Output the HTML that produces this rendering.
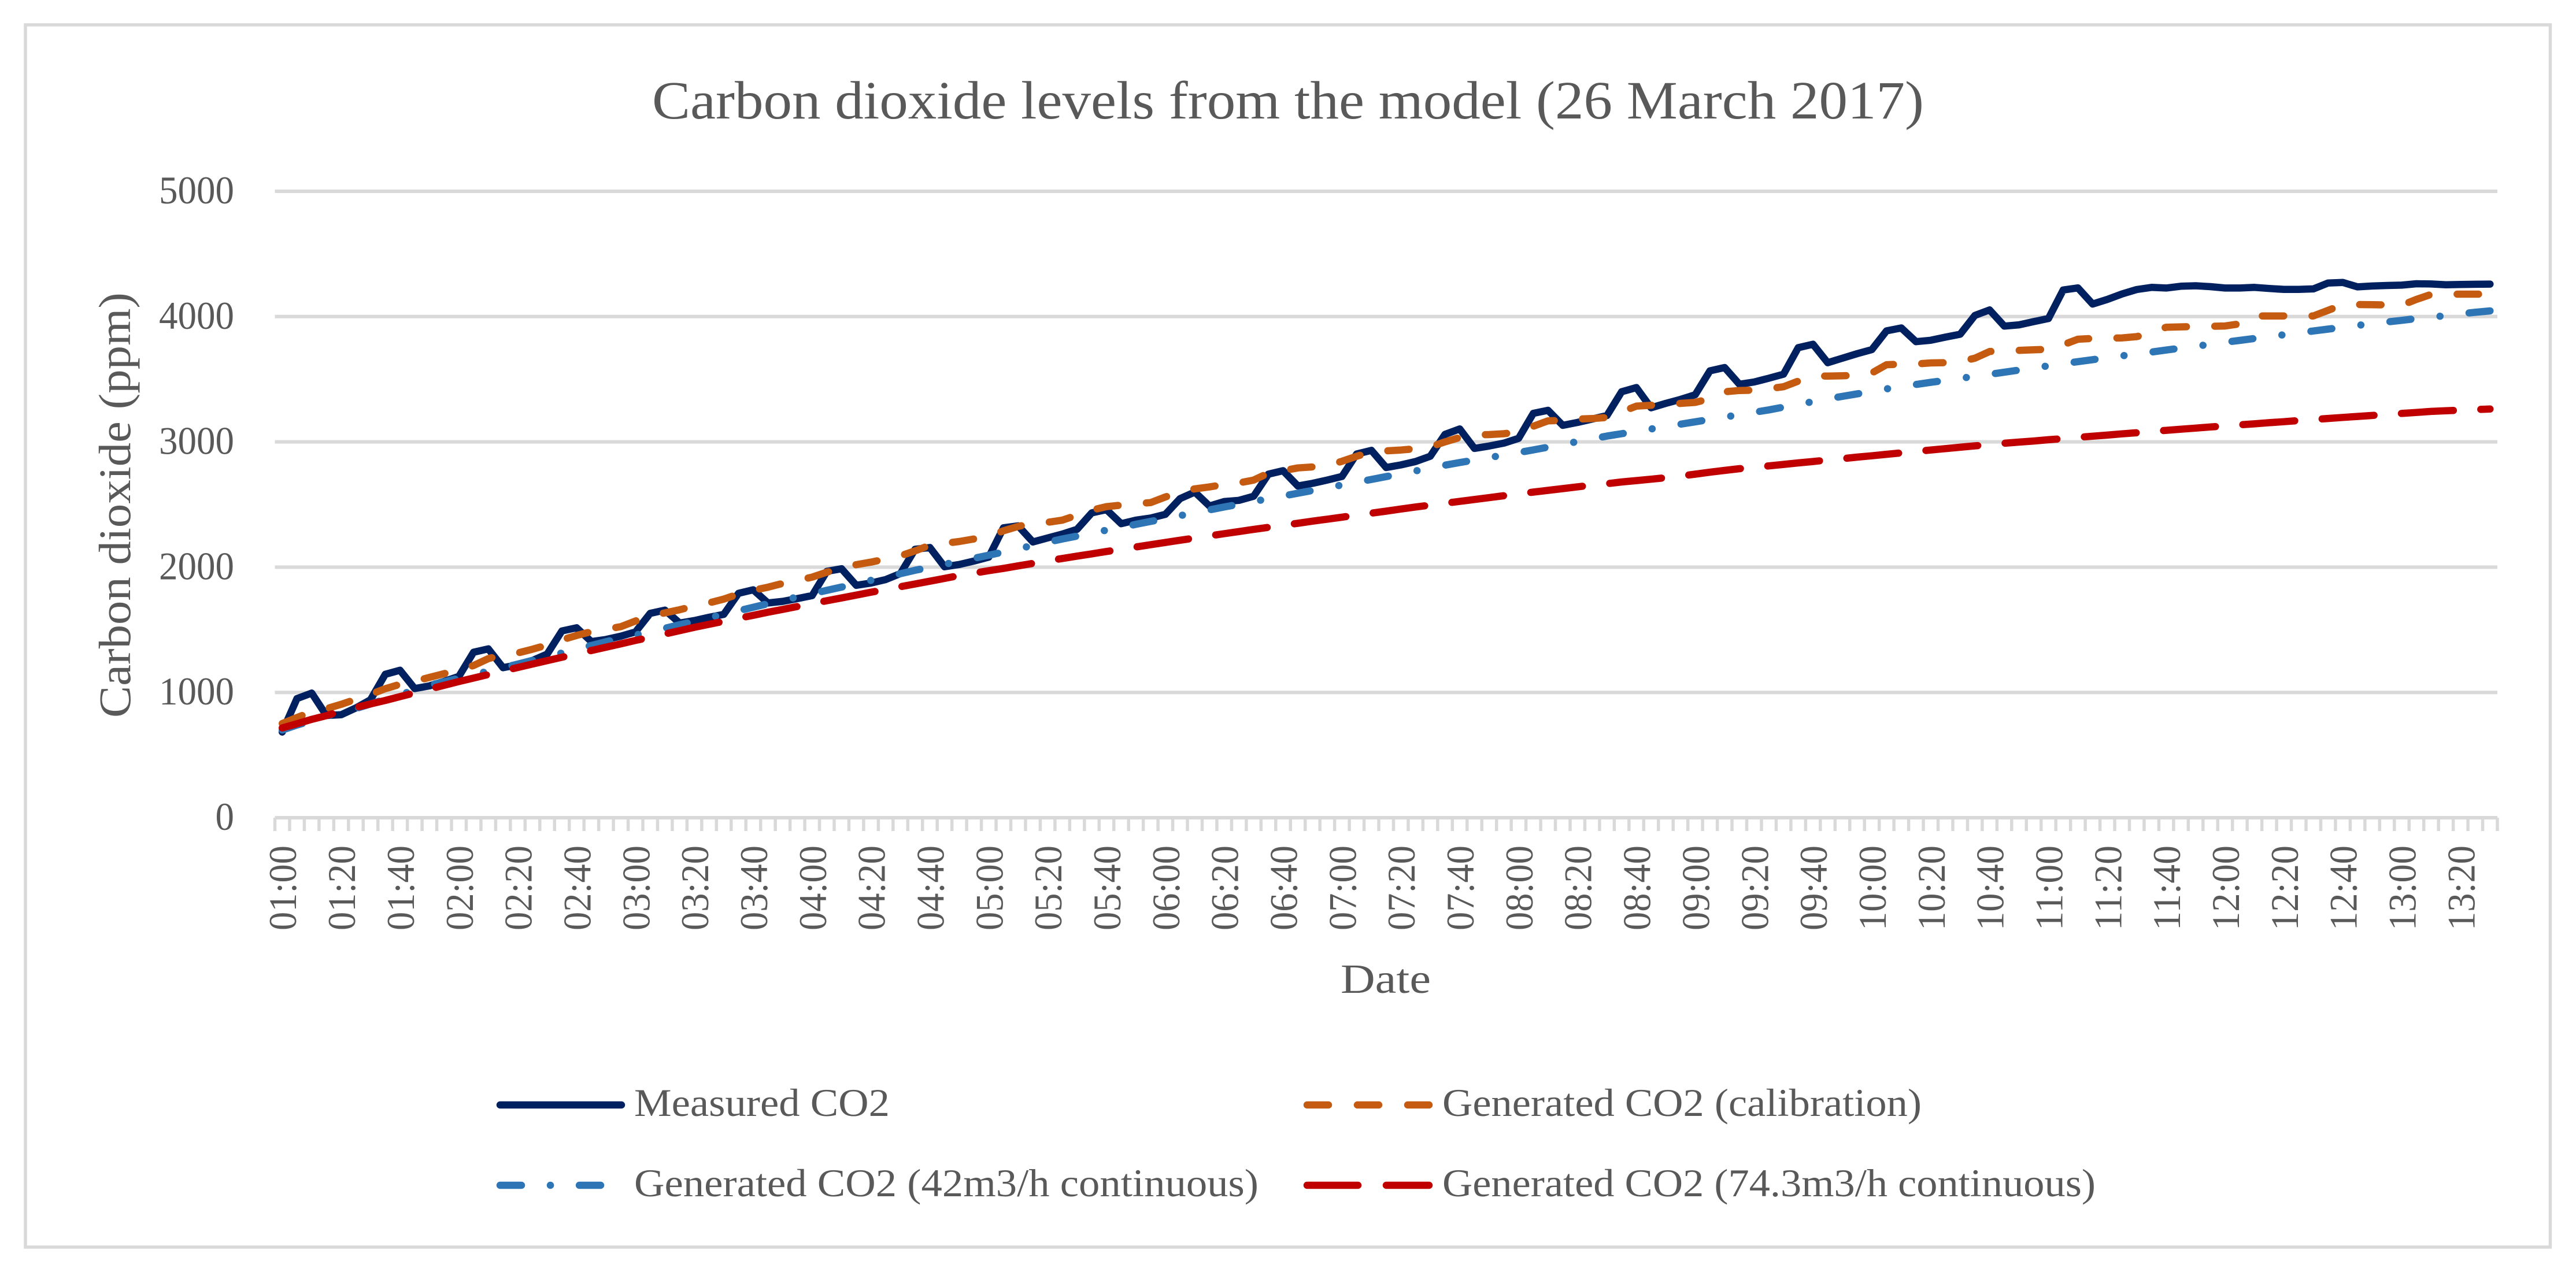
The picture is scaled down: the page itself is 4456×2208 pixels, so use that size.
<!DOCTYPE html>
<html lang="en">
<head>
<meta charset="utf-8">
<title>Carbon dioxide levels from the model (26 March 2017)</title>
<style>
html,body{margin:0;padding:0;background:#fff;}
svg{display:block;}
text{font-family:"Liberation Serif",serif;fill:#595959;}
</style>
</head>
<body>
<svg id="chart" xmlns="http://www.w3.org/2000/svg" width="4456" height="2208" viewBox="0 0 4456 2208">
<rect x="0" y="0" width="4456" height="2208" fill="#fff"/>
<rect x="44" y="43" width="4367.5" height="2115" fill="#fff" stroke="#d9d9d9" stroke-width="5.5"/>
<text x="1128" y="205" font-size="93" textLength="2200" lengthAdjust="spacingAndGlyphs">Carbon dioxide levels from the model (26 March 2017)</text>
<text transform="translate(225,1242) rotate(-90)" font-size="78" textLength="736" lengthAdjust="spacingAndGlyphs">Carbon dioxide (ppm)</text>
<text x="2319" y="1718" font-size="72" textLength="156" lengthAdjust="spacingAndGlyphs">Date</text>
<g id="grid"></g>
<g id="xaxis"></g>
<g id="yaxis"></g>
<g id="series"></g>
<g>
  <g>
    <line x1="865" y1="1912" x2="1075" y2="1912" stroke="#002060" stroke-width="12.5" stroke-linecap="round"/>
    <text x="1097" y="1931" font-size="68" textLength="442" lengthAdjust="spacingAndGlyphs">Measured CO2</text>
  </g>
  <g>
    <line x1="2261" y1="1912" x2="2472" y2="1912" stroke="#C55A11" stroke-width="12.5" stroke-linecap="round" stroke-dasharray="37 50"/>
    <text x="2495" y="1931" font-size="68" textLength="829" lengthAdjust="spacingAndGlyphs">Generated CO2 (calibration)</text>
  </g>
  <g>
    <line x1="865" y1="2051" x2="1039" y2="2051" stroke="#2E75B6" stroke-width="12.5" stroke-linecap="round" stroke-dasharray="37 50 0.1 50"/>
    <text x="1097" y="2070" font-size="68" textLength="1080" lengthAdjust="spacingAndGlyphs">Generated CO2 (42m3/h continuous)</text>
  </g>
  <g>
    <line x1="2261" y1="2051" x2="2472" y2="2051" stroke="#C00000" stroke-width="12.5" stroke-linecap="round" stroke-dasharray="88 49"/>
    <text x="2495" y="2070" font-size="68" textLength="1130" lengthAdjust="spacingAndGlyphs">Generated CO2 (74.3m3/h continuous)</text>
  </g>
</g>
</svg>
<script>
var xTickLabels = ["01:00","01:20","01:40","02:00","02:20","02:40","03:00","03:20","03:40","04:00","04:20","04:40","05:00","05:20","05:40","06:00","06:20","06:40","07:00","07:20","07:40","08:00","08:20","08:40","09:00","09:20","09:40","10:00","10:20","10:40","11:00","11:20","11:40","12:00","12:20","12:40","13:00","13:20"];
var labelEvery = 4;
var yTicks = [0,1000,2000,3000,4000,5000];
var measured = [684,951,995,816,822,876,942,1145,1177,1031,1052,1088,1128,1321,1348,1198,1220,1255,1306,1491,1516,1406,1423,1449,1483,1631,1657,1554,1574,1600,1623,1791,1819,1714,1727,1749,1773,1967,1987,1855,1873,1901,1949,2143,2157,2003,2021,2049,2080,2314,2330,2201,2233,2264,2302,2433,2459,2347,2375,2392,2421,2547,2599,2488,2524,2533,2566,2742,2770,2648,2669,2695,2724,2903,2932,2795,2816,2843,2885,3060,3103,2948,2967,2990,3028,3228,3252,3132,3155,3182,3210,3400,3433,3272,3307,3339,3376,3567,3593,3460,3478,3508,3540,3752,3779,3632,3668,3704,3736,3886,3909,3800,3811,3836,3859,4009,4053,3924,3934,3960,3985,4212,4229,4100,4137,4181,4216,4233,4228,4242,4246,4239,4228,4228,4233,4224,4217,4217,4221,4268,4272,4237,4244,4248,4251,4262,4260,4254,4256,4258,4259];
var calibration = [752,800,845,870,905,945,985,1030,1065,1090,1120,1150,1180,1215,1270,1300,1315,1345,1378,1420,1455,1485,1505,1525,1570,1610,1635,1660,1690,1715,1745,1785,1815,1840,1870,1895,1920,1960,1990,2020,2040,2065,2090,2130,2175,2190,2205,2225,2243,2290,2325,2350,2358,2375,2415,2455,2483,2495,2507,2515,2560,2600,2625,2640,2660,2672,2695,2750,2770,2792,2800,2810,2845,2885,2920,2928,2935,2945,2960,3000,3035,3055,3058,3065,3080,3125,3168,3172,3182,3186,3195,3240,3285,3292,3300,3307,3315,3345,3400,3410,3413,3425,3440,3485,3527,3525,3527,3532,3550,3616,3620,3622,3630,3632,3640,3668,3721,3727,3730,3735,3739,3775,3819,3825,3827,3830,3840,3871,3915,3918,3920,3922,3925,3942,4005,4005,4005,4005,4005,4050,4096,4096,4095,4093,4091,4137,4177,4179,4179,4179,4179];
var continuous42 = [700,740,775,810,845,872,908,945,982,1020,1058,1085,1113,1141,1170,1198,1226,1256,1285,1315,1345,1375,1405,1431,1458,1485,1512,1540,1568,1596,1624,1652,1680,1708,1735,1762,1788,1815,1841,1868,1895,1922,1948,1975,1999,2023,2047,2071,2095,2121,2147,2173,2199,2225,2248,2271,2295,2318,2342,2365,2388,2411,2434,2457,2480,2502,2524,2546,2568,2590,2612,2634,2656,2678,2700,2723,2746,2768,2791,2814,2835,2855,2875,2895,2915,2936,2958,2980,3002,3024,3046,3065,3084,3103,3122,3141,3160,3179,3198,3217,3236,3255,3277,3299,3321,3343,3363,3383,3403,3423,3440,3458,3475,3491,3507,3523,3539,3556,3573,3590,3607,3624,3640,3656,3671,3687,3702,3717,3733,3748,3763,3779,3795,3810,3825,3840,3855,3870,3885,3900,3915,3930,3943,3957,3970,3984,3995,4008,4022,4034,4045];
var continuous743 = [717,750,785,815,850,880,908,936,967,997,1027,1057,1087,1115,1143,1171,1199,1227,1254,1281,1308,1335,1361,1388,1415,1441,1467,1493,1520,1544,1568,1592,1616,1640,1663,1686,1709,1732,1754,1777,1800,1822,1844,1866,1888,1910,1933,1952,1972,1990,2010,2030,2050,2069,2088,2106,2125,2143,2161,2179,2197,2215,2232,2250,2267,2284,2301,2318,2334,2350,2367,2383,2399,2415,2431,2447,2464,2480,2495,2510,2525,2540,2555,2570,2585,2599,2613,2627,2641,2654,2666,2680,2691,2702,2714,2727,2742,2758,2772,2786,2796,2808,2820,2832,2843,2855,2866,2878,2889,2901,2912,2924,2935,2946,2957,2968,2978,2989,2998,3007,3017,3026,3036,3045,3054,3064,3073,3083,3092,3101,3110,3119,3127,3136,3144,3153,3161,3170,3178,3187,3195,3203,3211,3219,3227,3235,3243,3248,3253,3258,3262];

var NS = 'http://www.w3.org/2000/svg';
var plotLeft = 475.5, plotRight = 4320, plotTop = 331, plotBottom = 1415, yMax = 5000;
var step = (plotRight - plotLeft) / measured.length;
function xEdge(k) { return plotLeft + step * k; }
function xCenter(i) { return plotLeft + step * (i + 0.5); }
function yScale(v) { return plotBottom - (v / yMax) * (plotBottom - plotTop); }
function mk(tag) { return document.createElementNS(NS, tag); }

var grid = document.getElementById('grid');
var yaxis = document.getElementById('yaxis');
yTicks.forEach(function (t) {
  var l = mk('line');
  
  
  l.setAttribute('x1', plotLeft);
  l.setAttribute('x2', plotRight);
  l.setAttribute('y1', yScale(t));
  l.setAttribute('y2', yScale(t));
  l.setAttribute('stroke', '#d9d9d9');
  l.setAttribute('stroke-width', '6');
  grid.appendChild(l);
  var tx = mk('text');
  
  
  tx.setAttribute('x', 405);
  tx.setAttribute('y', yScale(t) + 21);
  tx.setAttribute('text-anchor', 'end');
  tx.setAttribute('font-size', '68');
  tx.setAttribute('textLength', String(String(t).length * 32.5));
  tx.setAttribute('lengthAdjust', 'spacingAndGlyphs');
  tx.textContent = String(t);
  yaxis.appendChild(tx);
});

var xaxis = document.getElementById('xaxis');
for (var k = 0; k <= measured.length; k++) {
  var tk = mk('line');
  
  
  tk.setAttribute('x1', xEdge(k));
  tk.setAttribute('x2', xEdge(k));
  tk.setAttribute('y1', plotBottom);
  tk.setAttribute('y2', plotBottom + 23);
  tk.setAttribute('stroke', '#d9d9d9');
  tk.setAttribute('stroke-width', '5.5');
  xaxis.appendChild(tk);
}
xTickLabels.forEach(function (lab, n) {
  var cx = xCenter(n * labelEvery);
  var tx = mk('text');
  
  
  tx.setAttribute('transform', 'translate(' + (cx + 24) + ',1463) rotate(-90)');
  tx.setAttribute('text-anchor', 'end');
  tx.setAttribute('font-size', '68');
  tx.setAttribute('textLength', '147');
  tx.setAttribute('lengthAdjust', 'spacingAndGlyphs');
  tx.textContent = lab;
  xaxis.appendChild(tx);
});

function linePath(values) {
  var d = '';
  for (var i = 0; i < values.length; i++) {
    d += (i ? 'L' : 'M') + xCenter(i).toFixed(1) + ' ' + yScale(values[i]).toFixed(1);
  }
  return d;
}
var seriesGroup = document.getElementById('series');
function addSeries(name, values, color, dash) {
  var p = mk('path');
  
  
  p.setAttribute('d', linePath(values));
  p.setAttribute('fill', 'none');
  p.setAttribute('stroke', color);
  p.setAttribute('stroke-width', '12.5');
  p.setAttribute('stroke-linecap', 'round');
  p.setAttribute('stroke-linejoin', 'round');
  if (dash) { p.setAttribute('stroke-dasharray', dash); }
  seriesGroup.appendChild(p);
}
addSeries('series-measured-co2', measured, '#002060', '');
addSeries('series-generated-calibration', calibration, '#C55A11', '37 49');
addSeries('series-generated-42m3h', continuous42, '#2E75B6', '36.5 50.55 0.1 50.55');
addSeries('series-generated-74m3h', continuous743, '#C00000', '90 47.5');
</script>
</body>
</html>
